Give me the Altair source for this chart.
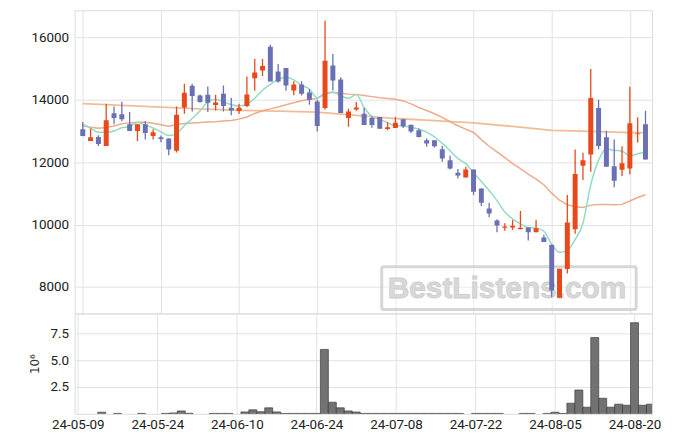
import json
import altair as alt
import pandas as pd

# ---------------- data ----------------
opens = [13054, 12682, 12810, 12522, 13565, 13533, 13214, 13001, 13214, 12842,
         12799, 12756, 12363, 13756, 14448, 14139, 14160, 13831, 14193, 13746,
         13639, 13799, 14693, 14937, 15703, 14905, 15022, 14299, 14490, 14235,
         13948, 13735, 15097, 14650, 13416, 13693, 13554, 13416, 13448, 13065,
         13097, 13373, 13203, 13022, 12703, 12703, 12416, 12065, 11661, 11512,
         11767, 11160, 10512, 10129, 9895, 9905, 9852, 9905, 9756, 9586,
         9352, 7650, 8576, 9852, 11884, 12246, 13735, 12800, 11873, 11757,
         11795, 12895, 13214]
highs = [13288, 13076, 12863, 13873, 13788, 13937, 13607, 13225, 13310, 13054,
         12852, 12767, 13788, 14512, 14512, 14171, 14427, 14160, 14459, 14065,
         13873, 14746, 15310, 15310, 15767, 15150, 15022, 14597, 14597, 14341,
         14001, 16533, 15469, 14724, 13714, 13927, 13735, 13469, 13448, 13278,
         13448, 13373, 13203, 13075, 12756, 12703, 12522, 12203, 11778, 11852,
         11767, 11160, 10703, 10171, 10044, 10150, 10437, 9905, 10150, 9671,
         9352, 8586, 10948, 12406, 12300, 14990, 14001, 13010, 12725, 12512,
         14416, 13437, 13650]
lows = [12830, 12682, 12522, 12522, 13214, 13310, 13001, 12682, 12724, 12724,
        12640, 12225, 12310, 13554, 13629, 13905, 13607, 13661, 13629, 13501,
        13554, 13767, 14288, 14767, 14586, 14544, 14288, 14150, 14139, 13842,
        12980, 13693, 14299, 13576, 13139, 13650, 13193, 13108, 13075, 13022,
        13097, 13097, 12937, 12788, 12491, 12469, 12012, 11767, 11480, 11512,
        10948, 10597, 10235, 9756, 9799, 9831, 9852, 9490, 9756, 9437,
        7671, 7650, 8427, 9703, 11427, 11693, 12416, 11852, 11193, 11554,
        11613, 12634, 12086]
closes = [12842, 12799, 12586, 13341, 13416, 13373, 13001, 13214, 12937, 12959,
          12746, 12405, 13523, 14224, 14118, 13927, 13905, 13916, 13799, 13661,
          13746, 14171, 14873, 15086, 14586, 14586, 14458, 14490, 14193, 14001,
          13161, 15256, 14618, 13576, 13629, 13756, 13193, 13193, 13075, 13118,
          13267, 13150, 12980, 12810, 12597, 12512, 12118, 11799, 11576, 11767,
          11054, 10703, 10352, 9969, 9937, 9958, 9895, 9756, 9884, 9437,
          7884, 8586, 10065, 11618, 12065, 14054, 12522, 11852, 11405, 11969,
          13245, 12921, 12086]
# volume in millions
volumes = [0, 0, 0, 0.15, 0, 0.04, 0, 0, 0.04, 0,
           0, 0.04, 0.08, 0.27, 0.05, 0, 0, 0.04, 0.04, 0.04,
           0, 0.18, 0.37, 0.19, 0.56, 0.18, 0.04, 0.04, 0.04, 0.04,
           0.04, 6.0, 1.08, 0.56, 0.27, 0.17, 0.04, 0.04, 0.04, 0.04,
           0.04, 0.04, 0.04, 0.04, 0.04, 0.04, 0.04, 0.04, 0.04, 0,
           0.04, 0.04, 0.04, 0.04, 0, 0, 0.04, 0.04, 0, 0.04,
           0.15, 0.04, 0.99, 2.22, 0.62, 7.1, 1.45, 0.62, 0.9, 0.8,
           8.49, 0.8, 0.9]
ma5 = [13220, 13090, 12960, 12960, 12997, 13103, 13143, 13269, 13188, 13097,
       12971, 12852, 12914, 13171, 13403, 13639, 13939, 14018, 13933, 13842,
       13805, 13859, 14050, 14307, 14492, 14660, 14718, 14641, 14463, 14346,
       14061, 14220, 14246, 14122, 14048, 14167, 13754, 13469, 13369, 13267,
       13169, 13161, 13118, 13065, 12961, 12810, 12603, 12367, 12120, 11954,
       11663, 11380, 11090, 10769, 10403, 10184, 10022, 9903, 9886, 9786,
       9371, 9109, 9171, 9518, 10044, 11278, 12065, 12422, 12380, 12358,
       12194, 12273, 12320]
ma20 = [13170, 13120, 13090, 13110, 13160, 13230, 13260, 13280, 13280, 13250,
        13200, 13150, 13210, 13240, 13260, 13270, 13290, 13300, 13320, 13335,
        13380, 13449, 13563, 13650, 13709, 13769, 13842, 13906, 13969, 14021,
        14042, 14184, 14239, 14207, 14182, 14174, 14138, 14102, 14066, 14039,
        14015, 13964, 13869, 13755, 13656, 13552, 13435, 13300, 13169, 13058,
        12952, 12725, 12511, 12331, 12146, 11956, 11791, 11619, 11460, 11276,
        11007, 10779, 10633, 10573, 10546, 10623, 10643, 10646, 10637, 10647,
        10756, 10867, 10954]
ma_long_idx = [0, 5, 10, 15, 20, 25, 30, 35, 40, 45, 50, 55, 60, 65, 70, 72]
ma_long = [13880, 13820, 13767, 13710, 13661, 13635, 13607, 13500, 13400, 13335,
           13260, 13145, 13020, 12985, 12950, 12945]
tick_labels = ["24-05-09", "24-05-24", "24-06-10", "24-06-24",
               "24-07-08", "24-07-22", "24-08-05", "24-08-20"]

# ---------------- tables ----------------
n = len(closes)
df = pd.DataFrame({"i": list(range(n)), "open": opens, "high": highs, "low": lows,
                   "close": closes, "vol": volumes, "ma5": ma5, "ma20": ma20})
df["dir"] = ["up" if c >= o else "down" for o, c in zip(opens, closes)]
df["body_lo"] = df[["open", "close"]].min(axis=1)
df["body_hi"] = df[["open", "close"]].max(axis=1)
df["x0"] = df["i"] - 0.5
df["x1"] = df["i"] + 0.5
df["zero"] = 0.0
dfl = pd.DataFrame({"i": ma_long_idx, "ma": ma_long})

UP, DOWN = "#e8481a", "#6b70b4"
W, H1, H2 = 581, 305, 101
xscale = alt.Scale(domain=[-0.41, 72.21], nice=False, zero=False)
label_expr = json.dumps(tick_labels) + "[round(datum.value/10)]"
xvals = [10 * k for k in range(len(tick_labels))]
color = alt.Color("dir:N", scale=alt.Scale(domain=["up", "down"], range=[UP, DOWN]), legend=None)

x_hidden = alt.X("i:Q", scale=xscale,
                 axis=alt.Axis(values=xvals, labels=False, title=None, grid=True, labelPadding=0))

base = alt.Chart(df)

# watermark
wm_data = alt.Data(values=[{"t": "BestListens.com"}])
wm_box = alt.Chart(wm_data).mark_rect(
    fill="#ffffff", fillOpacity=0.35, stroke="#d6d6d6", strokeWidth=3, cornerRadius=2
).encode(x=alt.value(309), x2=alt.value(565), y=alt.value(258), y2=alt.value(301))
wm_text = alt.Chart(wm_data).mark_text(
    font="Liberation Sans", fontWeight="bold", fontSize=30,
    fill="#d9d9d9", stroke="#cccccc", strokeWidth=0.8, align="center", baseline="middle"
).encode(x=alt.value(435), y=alt.value(280), text="t:N")

yscale = alt.Scale(domain=[7150, 16870], nice=False, zero=False)
y_axis = alt.Axis(values=[8000, 10000, 12000, 14000, 16000], format="d", title=None)

ma_long_line = alt.Chart(dfl).mark_line(color="#f0b68c", strokeWidth=1.8, opacity=0.9, clip=True).encode(
    x=x_hidden, y=alt.Y("ma:Q", scale=yscale, axis=y_axis))
ma20_line = base.mark_line(color="#eba27f", strokeWidth=1.5, opacity=0.9, clip=True).encode(
    x=x_hidden, y=alt.Y("ma20:Q", scale=yscale))
ma5_line = base.mark_line(color="#93dcc2", strokeWidth=1.5, interpolate="monotone", clip=True).encode(
    x=x_hidden, y=alt.Y("ma5:Q", scale=yscale))
wicks = base.mark_rule(strokeWidth=1.3, clip=True).encode(
    x=x_hidden, y=alt.Y("low:Q", scale=yscale), y2="high:Q", color=color)
bodies = base.mark_bar(size=5, clip=True).encode(
    x=x_hidden, y=alt.Y("body_lo:Q", scale=yscale), y2="body_hi:Q", color=color)

price = alt.layer(wm_box, wm_text, ma_long_line, ma20_line, ma5_line, wicks, bodies).properties(
    width=W, height=H1)

volume = base.transform_filter("datum.vol > 0").mark_rect(
    fill="#727272", stroke="#3c3c3c", strokeWidth=0.7, clip=True
).encode(
    x=alt.X("x0:Q", scale=xscale,
            axis=alt.Axis(values=xvals, labelExpr=label_expr, title=None, grid=True)),
    x2="x1:Q",
    y=alt.Y("vol:Q", scale=alt.Scale(domain=[0, 9.35], nice=False),
            axis=alt.Axis(values=[2.5, 5.0, 7.5], format=".1f", title="10⁶",
                          titleFont="DejaVu Sans", titleFontSize=12, titleFontWeight="normal",
                          titleColor="#333333", titlePadding=9)),
    y2="zero:Q",
).properties(width=W, height=H2)

chart = alt.vconcat(price, volume, spacing=0, bounds="flush").properties(
    padding={"left": 19, "top": 0, "right": 5, "bottom": 5}
).configure_view(stroke="#dcdcdc").configure_axis(
    labelFont="Roboto", labelFontSize=13.5, labelColor="#222222",
    gridColor="#e2e2e2", domain=False, ticks=False, labelPadding=6
).configure_axisX(labelPadding=4)

chart.save("out.html", embed_options={"renderer": "svg", "actions": False})
